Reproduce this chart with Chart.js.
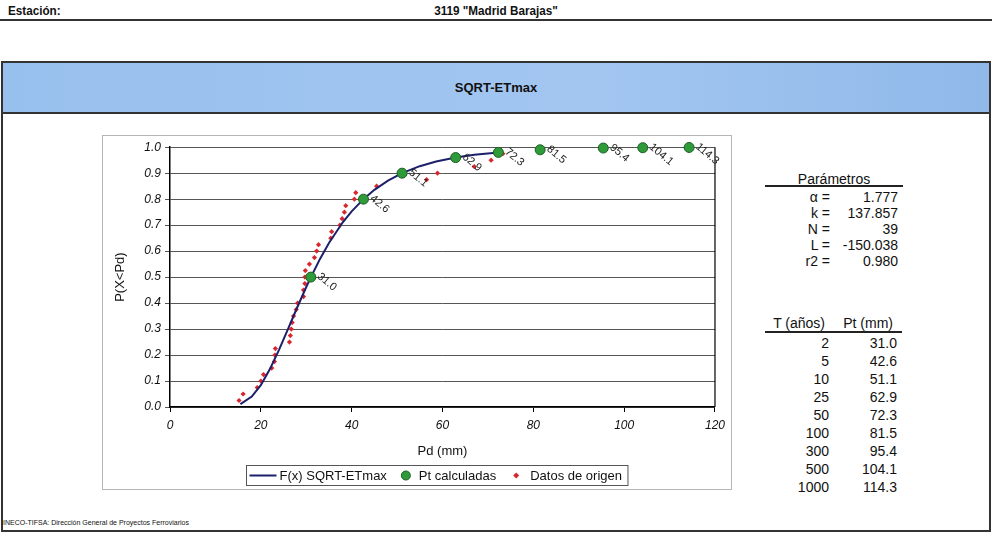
<!DOCTYPE html>
<html>
<head>
<meta charset="utf-8">
<script src="https://cdn.jsdelivr.net/npm/chart.js@4.4.1/dist/chart.umd.min.js"></script>
<style>
body{margin:0;width:992px;height:533px;position:relative;background:#fff;font-family:"Liberation Sans",Arial,sans-serif;color:#111;overflow:hidden}
.abs{position:absolute;white-space:nowrap}
.hdr{font-family:"Liberation Sans Narrow","Liberation Sans",Arial,sans-serif;font-weight:bold;font-size:13px;top:3px;transform:scaleX(0.9)}
.r{text-align:right;font-size:14px;line-height:16px}
</style>
</head>
<body>
<div class="abs hdr" style="left:8px;transform-origin:left center">Estación:</div>
<div class="abs hdr" style="left:426px;width:140px;text-align:center">3119 "Madrid Barajas"</div>
<div class="abs" style="left:0;top:19px;width:992px;height:2px;background:#333"></div>

<div class="abs" style="left:1px;top:61px;width:986px;height:467px;border:2px solid #333"></div>
<div class="abs" style="left:3px;top:63px;width:986px;height:49px;background:linear-gradient(90deg,#98c0ee,#a2c6f0 60%,#90b9ea);border-bottom:2px solid #333"></div>
<div class="abs" style="left:3px;top:80px;width:986px;text-align:center;font-weight:bold;font-size:13px">SQRT-ETmax</div>

<canvas id="c" class="abs" width="628" height="353" style="left:103px;top:136px"></canvas>
<div class="abs" style="left:102px;top:135px;width:628px;height:353px;border:1px solid #b5b5b5;pointer-events:none"></div>

<div id="panel"></div>

<div class="abs" style="left:3px;top:519px;font-size:7px">INECO-TIFSA: Dirección General de Proyectos Ferroviarios</div>

<script>
// periodos de retorno y precipitaciones calculadas
const periods = [2, 5, 10, 25, 50, 100, 300, 500, 1000];
const ptCalc = [31.0, 42.6, 51.1, 62.9, 72.3, 81.5, 95.4, 104.1, 114.3];
const probCalc = [0.5, 0.8, 0.9, 0.96, 0.98, 0.99, 0.9967, 0.998, 0.999];

// curva F(x) SQRT-ETmax
const curveX = [15.5, 18, 20, 22, 24, 26, 28, 30, 31, 33, 35, 38, 40, 42.6, 45, 48, 51.1, 55, 58.6, 62.9, 67, 72.3];
const curveP = [0.011, 0.040, 0.084, 0.146, 0.220, 0.301, 0.383, 0.462, 0.499, 0.569, 0.631, 0.710, 0.753, 0.800, 0.836, 0.871, 0.900, 0.927, 0.945, 0.960, 0.971, 0.980];

// datos de origen (39 valores)
const obsX = [15.2, 16.1, 19.2, 20.0, 20.6, 22.4, 23.0, 23.1, 23.2, 26.3, 26.5, 26.7, 26.9, 27.2, 27.8, 28.1, 29.4, 29.4, 29.7, 29.7,
              29.8, 30.7, 31.8, 32.3, 32.7, 35.4, 35.6, 37.4, 37.9, 38.4, 38.7, 40.6, 40.9, 45.5, 56.5, 58.9, 67.0, 70.7, 73.3];
const obsP = [0.025, 0.05, 0.075, 0.1, 0.125, 0.15, 0.175, 0.2, 0.225, 0.25, 0.275, 0.3, 0.325, 0.35, 0.375, 0.4, 0.425, 0.45, 0.475, 0.5,
              0.525, 0.55, 0.575, 0.6, 0.625, 0.65, 0.675, 0.7, 0.725, 0.75, 0.775, 0.8, 0.825, 0.85, 0.875, 0.9, 0.925, 0.95, 0.975];

// parámetros
const paramNames = ['α =', 'k =', 'N =', 'L =', 'r2 ='];
const paramValues = ['1.777', '137.857', '39', '-150.038', '0.980'];

const FONT = '"Liberation Sans", Arial, sans-serif';

// panel derecho
(function () {
  const p = document.getElementById('panel');
  let h = '';
  h += '<div class="abs r" style="left:765px;top:171px;width:138px;text-align:center">Parámetros</div>';
  h += '<div class="abs" style="left:765px;top:185px;width:138px;height:2px;background:#222"></div>';
  paramNames.forEach((n, i) => {
    const top = 189 + i * 16;
    h += `<div class="abs r" style="left:780px;width:50px;top:${top}px">${n}</div>`;
    h += `<div class="abs r" style="left:830px;width:68px;top:${top}px">${paramValues[i]}</div>`;
  });
  h += '<div class="abs r" style="left:760px;width:65px;top:315px">T (años)</div>';
  h += '<div class="abs r" style="left:830px;width:63px;top:315px">Pt (mm)</div>';
  h += '<div class="abs" style="left:765px;top:331px;width:137px;height:2px;background:#222"></div>';
  periods.forEach((t, i) => {
    const top = 335 + i * 18;
    h += `<div class="abs r" style="left:780px;width:49px;top:${top}px">${t}</div>`;
    h += `<div class="abs r" style="left:830px;width:67px;top:${top}px">${ptCalc[i].toFixed(1)}</div>`;
  });
  p.innerHTML = h;
})();

// borde derecho del área de trazado
const plotBorder = {
  id: 'plotBorder',
  afterDatasetsDraw(chart) {
    const { ctx, chartArea: a } = chart;
    ctx.save();
    ctx.strokeStyle = '#000';
    ctx.lineWidth = 1.2;
    ctx.beginPath();
    ctx.moveTo(a.right, a.top);
    ctx.lineTo(a.right, a.bottom);
    ctx.stroke();
    ctx.restore();
  }
};

// etiquetas giradas de las Pt calculadas
const ptLabels = {
  id: 'ptLabels',
  afterDatasetsDraw(chart) {
    const ctx = chart.ctx;
    const meta = chart.getDatasetMeta(1);
    ctx.save();
    ctx.font = '11px ' + FONT;
    ctx.fillStyle = '#222';
    ctx.textBaseline = 'middle';
    meta.data.forEach((pt, i) => {
      ctx.save();
      ctx.translate(pt.x + 8, pt.y - 2);
      ctx.rotate(40 * Math.PI / 180);
      ctx.fillText(ptCalc[i].toFixed(1), 0, 0);
      ctx.restore();
    });
    ctx.restore();
  }
};

// leyenda con recuadro
const legendBox = {
  id: 'legendBox',
  afterDraw(chart) {
    const ctx = chart.ctx;
    const ds = chart.data.datasets;
    ctx.save();
    ctx.font = '13px ' + FONT;
    const symW = [27, 10, 6];
    const gapAfterSym = [3, 8, 11];
    const gapBetween = [14, 17];
    const w = ds.map(d => ctx.measureText(d.label).width);
    let total = 3 + 6;
    ds.forEach((d, i) => { total += symW[i] + gapAfterSym[i] + w[i] + (i < 2 ? gapBetween[i] : 0); });
    const cx = (chart.chartArea.left + chart.chartArea.right) / 2 - 6;
    const x0 = Math.round(cx - total / 2) + 0.5;
    const y0 = chart.height - 24 + 0.5;
    const h = 20;
    ctx.strokeStyle = '#555';
    ctx.lineWidth = 1;
    ctx.strokeRect(x0, y0, total, h);
    const cy = y0 + h / 2;
    let x = x0 + 3;
    ctx.textBaseline = 'middle';
    ctx.fillStyle = '#111';
    ds.forEach((d, i) => {
      if (i === 0) {
        ctx.strokeStyle = d.borderColor;
        ctx.lineWidth = 2;
        ctx.beginPath();
        ctx.moveTo(x, cy);
        ctx.lineTo(x + symW[0], cy);
        ctx.stroke();
      } else if (i === 1) {
        ctx.fillStyle = d.backgroundColor;
        ctx.strokeStyle = d.borderColor;
        ctx.lineWidth = 1;
        ctx.beginPath();
        ctx.arc(x + 5, cy, 4.5, 0, Math.PI * 2);
        ctx.fill();
        ctx.stroke();
      } else {
        ctx.fillStyle = d.backgroundColor;
        ctx.beginPath();
        ctx.moveTo(x + 3, cy - 3);
        ctx.lineTo(x + 6, cy);
        ctx.lineTo(x + 3, cy + 3);
        ctx.lineTo(x, cy);
        ctx.closePath();
        ctx.fill();
      }
      x += symW[i] + gapAfterSym[i];
      ctx.fillStyle = '#111';
      ctx.fillText(d.label, x, cy + 1);
      x += w[i] + (i < 2 ? gapBetween[i] : 0);
    });
    ctx.restore();
  }
};

const ctx = document.getElementById('c').getContext('2d');
new Chart(ctx, {
  type: 'scatter',
  data: {
    datasets: [
      {
        type: 'line',
        label: 'F(x) SQRT-ETmax',
        data: curveX.map((x, i) => ({ x: x, y: curveP[i] })),
        borderColor: '#1d1f6a',
        borderWidth: 2,
        pointRadius: 0,
        tension: 0,
        fill: false,
        clip: false,
        order: 1
      },
      {
        label: 'Pt calculadas',
        data: ptCalc.map((x, i) => ({ x: x, y: probCalc[i] })),
        pointStyle: 'circle',
        pointRadius: 5,
        backgroundColor: '#2f9a3a',
        borderColor: '#1b5e22',
        borderWidth: 1,
        clip: false,
        order: 0
      },
      {
        label: 'Datos de origen',
        data: obsX.map((x, i) => ({ x: x, y: obsP[i] })),
        pointStyle: 'rectRot',
        pointRadius: 2.6,
        backgroundColor: '#d9262c',
        borderColor: '#d9262c',
        borderWidth: 0,
        clip: false,
        order: 2
      }
    ]
  },
  options: {
    responsive: false,
    animation: false,
    layout: { padding: { left: 0, right: 14, top: 11, bottom: 30 } },
    plugins: {
      legend: { display: false },
      tooltip: { enabled: false }
    },
    scales: {
      x: {
        type: 'linear',
        min: 0,
        max: 120,
        ticks: { stepSize: 20, padding: 6, color: '#111', font: { family: FONT, size: 12, style: 'italic' } },
        grid: { drawOnChartArea: false, tickLength: 5, color: '#000' },
        border: { color: '#000', width: 1.5 },
        title: { display: true, text: 'Pd (mm)', color: '#111', font: { family: FONT, size: 13 }, padding: { top: 4, bottom: 0 } },
        afterFit: s => { s.height = 52; }
      },
      y: {
        min: 0,
        max: 1,
        ticks: { stepSize: 0.1, padding: 4, color: '#111', font: { family: FONT, size: 12, style: 'italic' }, callback: v => v.toFixed(1) },
        grid: { color: '#555', lineWidth: 1, tickLength: 5 },
        border: { color: '#000', width: 1.5 },
        title: { display: true, text: 'P(X<Pd)', color: '#111', font: { family: FONT, size: 13 }, padding: 10 },
        afterFit: s => { s.width = 67; }
      }
    }
  },
  plugins: [plotBorder, ptLabels, legendBox]
});
</script>
</body>
</html>
